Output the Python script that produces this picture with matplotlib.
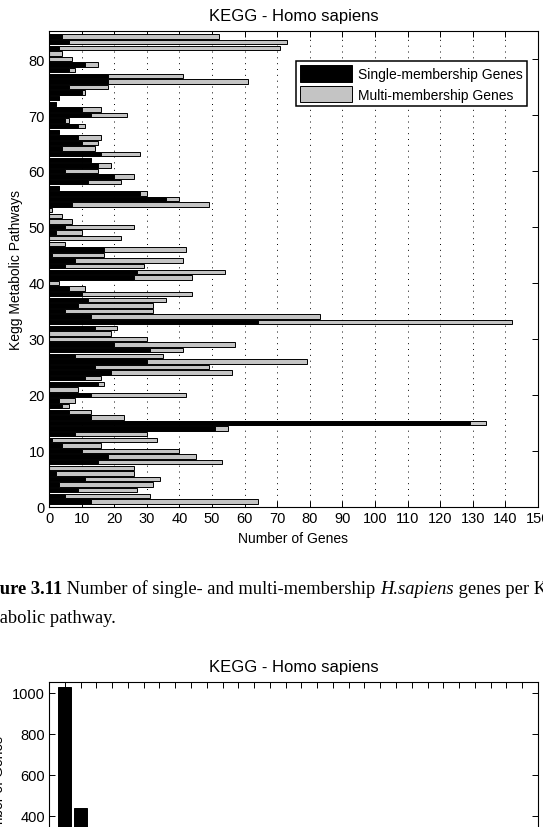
import numpy as np
import matplotlib
matplotlib.use('Agg')
import matplotlib.pyplot as plt

plt.rcParams['font.family'] = ['Liberation Sans', 'DejaVu Sans']
plt.rcParams['font.size'] = 10

# pathways 1..84, gene counts
pathway = np.arange(1, 85)
single_genes = np.array([
    13, 5, 9, 3, 11, 2, 0, 15, 18, 10,
    4, 1, 8, 51, 129, 13, 6, 4, 3, 13,
    0, 15, 11, 19, 14, 30, 8, 31, 20, 0,
    0, 14, 64, 13, 5, 9, 12, 10, 6, 0,
    26, 27, 5, 8, 1, 17, 0, 0, 2, 5,
    0, 0, 0, 7, 36, 28, 3, 12, 20, 5,
    15, 13, 16, 4, 10, 9, 3, 9, 5, 13,
    10, 2, 3, 10, 6, 18, 18, 6, 11, 0,
    0, 3, 6, 4])
total_genes = np.array([
    64, 31, 27, 32, 34, 26, 26, 53, 45, 40,
    16, 33, 30, 55, 134, 23, 13, 6, 8, 42,
    9, 17, 16, 56, 49, 79, 35, 41, 57, 30,
    19, 21, 142, 83, 32, 32, 36, 44, 11, 3,
    44, 54, 29, 41, 17, 42, 5, 22, 10, 26,
    7, 4, 1, 49, 40, 30, 3, 22, 26, 15,
    19, 13, 28, 14, 15, 16, 3, 11, 6, 24,
    16, 2, 3, 11, 18, 61, 41, 8, 15, 7,
    4, 71, 73, 52])
multi_genes = total_genes - single_genes

# second chart (only the top part is visible in the page crop)
memberships = np.arange(1, 31)
genes_per_membership = np.array([
    1030, 435, 250, 160, 110, 80, 60, 45, 35, 28,
    22, 18, 15, 12, 10, 8, 7, 6, 5, 4,
    4, 3, 3, 2, 2, 2, 1, 1, 1, 1])

W, H = 543, 828
fig = plt.figure(figsize=(W / 100, H / 100), dpi=100)

x_left, x_right = 49, 538
ax = fig.add_axes([x_left / W, 1 - 508 / H, (x_right - x_left) / W, (508 - 32) / H])
ax.barh(pathway, single_genes, height=0.8, color='k', edgecolor='k', lw=0.7,
        label='Single-membership Genes')
ax.barh(pathway, multi_genes, left=single_genes, height=0.8, color='#c4c4c4',
        edgecolor='k', lw=0.7, label='Multi-membership Genes')
ax.set_xlim(0, 150)
ax.set_ylim(0, 85)
ax.set_xticks(range(0, 151, 10))
ax.set_yticks(range(0, 81, 10))
ax.tick_params(direction='in', top=True, right=True, length=4, width=0.7, pad=3,
               labelsize=10.5)
ax.grid(axis='x', linestyle=(0, (1, 5)), color='k', lw=0.7)
ax.set_axisbelow(True)
for s in ax.spines.values():
    s.set_linewidth(0.8)
ax.set_xlabel('Number of Genes', labelpad=4)
ax.set_ylabel('Kegg Metabolic Pathways', labelpad=4)
ax.set_title('KEGG - Homo sapiens', pad=8)
leg = ax.legend(loc='upper right', bbox_to_anchor=(0.9775, 0.937), borderaxespad=0,
                fancybox=False, framealpha=1, edgecolor='k', handlelength=3.7,
                handleheight=1.45, labelspacing=0.3, borderpad=0.3, handletextpad=0.45,
                fontsize=10)
leg.get_frame().set_linewidth(1.1)

# caption, left part cut off by the page crop
fig.canvas.draw()
rend = fig.canvas.get_renderer()
cap = dict(family=['Liberation Serif', 'DejaVu Serif'], fontsize=13.3)
probe = fig.text(0, 0, 'Fig', fontweight='bold', **cap)
x0 = -probe.get_window_extent(rend).width / W
probe.remove()
parts = [('Figure 3.11', 'bold', 'normal'),
         (' Number of single- and multi-membership ', 'normal', 'normal'),
         ('H.sapiens', 'normal', 'italic'),
         (' genes per KEGG', 'normal', 'normal')]
x = x0
for txt, wt, st in parts:
    t = fig.text(x, 1 - 594 / H, txt, fontweight=wt, style=st, va='baseline', **cap)
    x = t.get_window_extent(rend).x1 / W
probe = fig.text(0, 0, 'met', **cap)
x1 = -probe.get_window_extent(rend).width / W
probe.remove()
fig.text(x1, 1 - 623 / H, 'metabolic pathway.', va='baseline', **cap)

# second chart
top2 = 683.4
h2 = 1050 * 0.205
ax2 = fig.add_axes([x_left / W, 1 - (top2 + h2) / H, (x_right - x_left) / W, h2 / H])
ax2.bar(memberships, genes_per_membership, width=0.8, color='k', edgecolor='k', lw=0.7)
ax2.set_xlim(0, 31)
ax2.set_ylim(0, 1050)
ax2.set_xticks(memberships)
ax2.set_yticks(range(0, 1001, 200))
ax2.tick_params(direction='in', top=True, right=True, length=4, width=0.7, pad=3,
                labelsize=10.5)
for s in ax2.spines.values():
    s.set_linewidth(0.8)
ax2.set_ylabel('Number of Genes', labelpad=4)
ax2.set_title('KEGG - Homo sapiens', pad=8)

fig.savefig('out.png', dpi=100)
